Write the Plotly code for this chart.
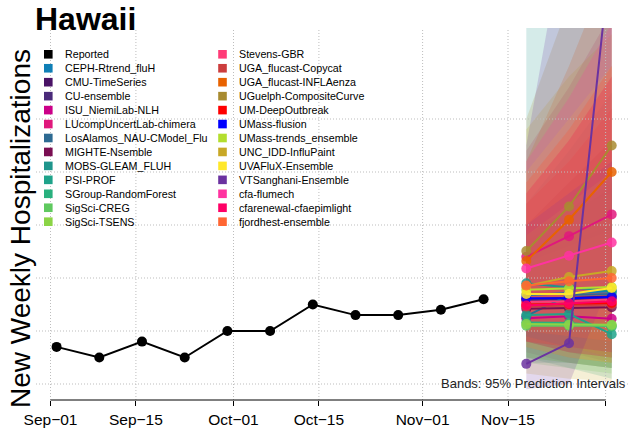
import plotly.graph_objects as go
import pandas as pd

# ---------------- data ----------------
state_name = "Hawaii"
obs_dates = ["2023-09-02", "2023-09-09", "2023-09-16", "2023-09-23", "2023-09-30",
             "2023-10-07", "2023-10-14", "2023-10-21", "2023-10-28", "2023-11-04", "2023-11-11"]
obs_values = [7, 5, 8, 5, 10, 10, 15, 13, 13, 14, 16]

fc_dates = ["2023-11-18", "2023-11-25", "2023-12-02"]

model_names = [
    "CEPH-Rtrend_fluH", "CMU-TimeSeries", "CU-ensemble", "ISU_NiemiLab-NLH",
    "LUcompUncertLab-chimera", "LosAlamos_NAU-CModel_Flu", "MIGHTE-Nsemble",
    "MOBS-GLEAM_FLUH", "PSI-PROF", "SGroup-RandomForest", "SigSci-CREG", "SigSci-TSENS",
    "Stevens-GBR", "UGA_flucast-Copycat", "UGA_flucast-INFLAenza", "UGuelph-CompositeCurve",
    "UM-DeepOutbreak", "UMass-flusion", "UMass-trends_ensemble", "UNC_IDD-InfluPaint",
    "UVAFluX-Ensemble", "VTSanghani-Ensemble", "cfa-flumech", "cfarenewal-cfaepimlight",
    "fjordhest-ensemble",
]
model_colors = [
    "#0F7FB6", "#4A1366", "#4A2A7A", "#CC0088",
    "#E0187C", "#2D6A92", "#7A0E52",
    "#1F958C", "#1FA38A", "#29B07E", "#5FC95F", "#8BD446",
    "#FF3B77", "#CC3D3D", "#E86200", "#A88B30",
    "#FF0000", "#0000FF", "#B3DE2E", "#C8A826",
    "#FFE82A", "#6B32A0", "#FF33A0", "#FF0066",
    "#FF6633",
]
# medians at the three target dates
q50 = [
    [16.8, 17.2, 17.5], [16.0, 16.3, 16.5], [15.8, 16.0, 16.2], [12.4, 12.8, 12.3],
    [24.0, 27.9, 32.0], [12.8, 16.8, 17.0], [14.2, 14.3, 14.5],
    [19.0, 18.2, 17.6], [13.0, 13.2, 9.4], [11.6, 11.5, 10.8], [11.0, 11.0, 11.0], [11.3, 11.2, 11.2],
    [15.5, 15.6, 16.0], [14.6, 14.8, 15.0], [23.2, 31.0, 40.0], [25.1, 33.5, 45.0],
    [15.0, 15.1, 15.3], [16.2, 16.2, 16.4], [17.8, 18.0, 18.3], [18.5, 20.2, 21.3],
    [17.0, 17.0, 18.1], [3.8, 7.7, 83.0], [21.8, 24.2, 26.7], [14.8, 15.2, 15.6],
    [18.6, 19.4, 20.0],
]
# 95% interval bounds
q025 = [
    [9, 7, 5], [8, 6, 4], [9, 7, 5], [6, 4, 3],
    [12, 12, 12], [4, 4, 3], [8, 6, 5],
    [8, 6, 5], [5, 3, 1], [5, 4, 3], [4, 3, 2], [5, 4, 3],
    [8, 7, 6], [7, 5, 4], [12, 14, 16], [14, 16, 20],
    [8, 7, 6], [9, 7, 6], [9, 7, 5], [2, 1, 0.5],
    [7, 5, 4], [-1, 0, 20], [12, 12, 12], [8, 6, 5],
    [10, 9, 8],
]
q975 = [
    [30, 36, 42], [28, 33, 38], [27, 32, 37], [30, 38, 46],
    [44, 56, 70], [34, 44, 55], [30, 38, 46],
    [75, 78, 80], [28, 33, 36], [24, 27, 30], [24, 28, 32], [23, 26, 29],
    [38, 48, 60], [36, 46, 58], [42, 60, 80], [50, 72, 95],
    [34, 42, 52], [30, 36, 42], [28, 34, 40], [48, 58, 66],
    [40, 50, 60], [45, 90, 200], [42, 54, 68], [36, 46, 58],
    [38, 48, 60],
]

tick_dates = ["2023-09-01", "2023-09-15", "2023-10-01", "2023-10-15", "2023-11-01", "2023-11-15", "2023-12-01"]
tick_labels = ["Sep\u221201", "Sep\u221215", "Oct\u221201", "Oct\u221215", "Nov\u221201", "Nov\u221215", "Dec\u221201"]
y_grid = [0, 10, 20, 30, 40, 50]

# ---------------- layout geometry ----------------
W, H = 632, 432
ML, MR, MT, MB = 36, 2, 28, 32
PW, PH = W - ML - MR, H - MT - MB
FONT = "Liberation Sans, Arial, Helvetica, sans-serif"

x0 = pd.Timestamp("2023-09-01")
px_per_day = 6.1
x_range = [x0 - pd.Timedelta(days=(50.5 - ML) / px_per_day),
           x0 + pd.Timedelta(days=(W - MR - 50.5) / px_per_day)]
px_per_unit = 5.3
y_range = [-(MT + PH - 384) / px_per_unit, (384 - MT) / px_per_unit]


def pxx(p):
    return (p - ML) / PW


def pxy(p):
    return (MT + PH - p) / PH


def rgba(hexc, a):
    h = hexc.lstrip("#")
    return "rgba(%d,%d,%d,%.3f)" % (int(h[0:2], 16), int(h[2:4], 16), int(h[4:6], 16), a)


fig = go.Figure()

# prediction bands
for name, col, lo, hi in zip(model_names, model_colors, q025, q975):
    fig.add_trace(go.Scatter(
        x=fc_dates + fc_dates[::-1], y=list(hi) + list(lo)[::-1],
        fill="toself", fillcolor=rgba(col, 0.19), line=dict(width=0),
        mode="lines", hoverinfo="skip", showlegend=False))

# dotted grid (drawn above bands)
gx, gy = [], []
for v in y_grid:
    gx += [x_range[0], x_range[1], None]
    gy += [v, v, None]
for d in tick_dates:
    gx += [d, d, None]
    gy += [y_range[0], y_range[1], None]
fig.add_trace(go.Scatter(x=gx, y=gy, mode="lines",
                         line=dict(color="#BDBDBD", width=1, dash="1px,2px"),
                         hoverinfo="skip", showlegend=False))

# reported
fig.add_trace(go.Scatter(x=obs_dates, y=obs_values, mode="lines+markers",
                         line=dict(color="black", width=2),
                         marker=dict(color="black", size=10),
                         name="Reported", showlegend=False))

# model medians
for name, col, med in zip(model_names, model_colors, q50):
    fig.add_trace(go.Scatter(x=fc_dates, y=med, mode="lines+markers",
                             line=dict(color=col, width=2),
                             marker=dict(color=col, size=10, opacity=0.85),
                             name=name, showlegend=False))

# ---------------- legend (manual, two columns) ----------------
legend_names = ["Reported"] + model_names
legend_colors = ["#000000"] + model_colors
shapes = []
annotations = []
row0, row_step = 54.3, 13.95
for i, (nm, col) in enumerate(zip(legend_names, legend_colors)):
    c, r = divmod(i, 13)
    sq_x = 48.3 if c == 0 else 222.5
    tx = 62.5 if c == 0 else 236.5
    yc = row0 + r * row_step
    s = 4.3
    shapes.append(dict(type="rect", xref="paper", yref="paper",
                       x0=pxx(sq_x - s), x1=pxx(sq_x + s), y0=pxy(yc + s), y1=pxy(yc - s),
                       fillcolor=col, line=dict(width=0), layer="above"))
    annotations.append(dict(text=nm, xref="paper", yref="paper", x=pxx(tx), y=pxy(yc),
                            xanchor="left", yanchor="middle", showarrow=False,
                            font=dict(family=FONT, size=10.7, color="#000000")))

# x axis line (R style: from first to last tick)
shapes.append(dict(type="line", xref="x", yref="paper", x0=tick_dates[0], x1=tick_dates[-1],
                   y0=0, y1=0, line=dict(color="black", width=1)))

# title
annotations.append(dict(text="<b>%s</b>" % state_name, xref="paper", yref="paper",
                        x=pxx(33), y=pxy(19.5), xanchor="left", yanchor="middle",
                        showarrow=False, font=dict(family=FONT, size=32, color="black")))
# y axis title
annotations.append(dict(text="New Weekly Hospitalizations", xref="paper", yref="paper",
                        x=pxx(20), y=pxy(229), xanchor="center", yanchor="middle",
                        textangle=-90, showarrow=False,
                        font=dict(family=FONT, size=28, color="black")))
# band note
annotations.append(dict(text="Bands: 95% Prediction Intervals", xref="paper", yref="paper",
                        x=pxx(628), y=pxy(383), xanchor="right", yanchor="middle",
                        showarrow=False, font=dict(family=FONT, size=13, color="#222222")))

fig.update_layout(
    width=W, height=H,
    margin=dict(l=ML, r=MR, t=MT, b=MB, pad=0),
    paper_bgcolor="white", plot_bgcolor="white",
    showlegend=False,
    shapes=shapes, annotations=annotations,
    xaxis=dict(type="date", range=x_range, showgrid=False, zeroline=False, showline=False,
               tickvals=tick_dates, ticktext=tick_labels, ticks="outside", ticklen=5,
               tickwidth=1, tickcolor="black",
               tickfont=dict(family=FONT, size=15.5, color="black")),
    yaxis=dict(range=y_range, showgrid=False, zeroline=False, showline=False,
               showticklabels=False, ticks=""),
)

fig.write_html("out.html", config={"displayModeBar": False},
               post_script="document.body.style.margin='0px';document.body.style.padding='0px';")
